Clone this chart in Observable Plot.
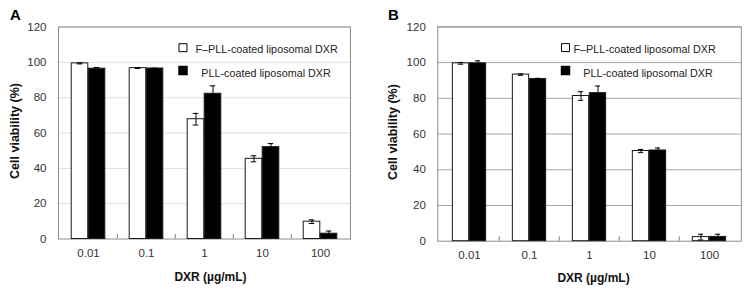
<!DOCTYPE html>
<html>
<head>
<meta charset="utf-8">
<script src="https://cdn.jsdelivr.net/npm/d3@7"></script>
<script src="https://cdn.jsdelivr.net/npm/@observablehq/plot@0.6"></script>
<style>
  html, body { margin: 0; padding: 0; background: #fff; }
  #wrap { position: relative; width: 744px; height: 292px; overflow: hidden; }
  .panel { position: absolute; top: 0; }
  svg { font-family: "Liberation Sans", Arial, sans-serif; }
</style>
</head>
<body>
<div id="wrap"></div>
<script>
// ---- data ----
const concentrations = ["0.01", "0.1", "1", "10", "100"];
const seriesNames = ["F\u2013PLL-coated liposomal DXR", "PLL-coated liposomal DXR"];
const yTicks = [0, 20, 40, 60, 80, 100, 120];

// Panel A
const aF = [99.4, 96.7, 67.8, 45.4, 9.8];
const aFerr = [0.3, 0.2, 3.3, 1.7, 1.0];
const aP = [96.4, 96.5, 82.2, 52.0, 3.0];
const aPerr = [0.7, 0.2, 4.5, 2.0, 1.5];

// Panel B
const bF = [99.6, 93.3, 81.3, 50.5, 2.3];
const bFerr = [0.5, 0.4, 2.4, 0.9, 1.6];
const bP = [99.6, 90.8, 82.9, 50.8, 2.4];
const bPerr = [1.4, 0.4, 4.0, 1.4, 1.5];

function makePanel({letter, F, Ferr, P, Perr, left, mL, mR, mT, mB, band, grid, lg, titleDy, ylabDx}) {
  const rows = [];
  concentrations.forEach((c, i) => {
    rows.push({c, s: 0, v: F[i], e: Ferr[i]});
    rows.push({c, s: 1, v: P[i], e: Perr[i]});
  });
  const bw = 17, half = band / 2, cap = 3;
  const white = rows.filter(d => d.s === 0), black = rows.filter(d => d.s === 1);
  const ink = "#1a1a1a";
  const plot = Plot.plot({
    width: 372, height: 292,
    marginLeft: mL, marginRight: mR, marginTop: mT, marginBottom: mB,
    style: {fontFamily: "Liberation Sans, Arial, sans-serif", fontSize: "11.5px", color: "#333", background: "transparent", overflow: "visible"},
    x: {domain: concentrations, padding: 0, label: null},
    y: {domain: [0, 120], label: null},
    marks: [
      Plot.gridY(yTicks.slice(1), {stroke: grid, strokeOpacity: 1, strokeWidth: 1}),
      Plot.frame({stroke: "#8c8c8c", strokeWidth: 1}),
      Plot.axisY(yTicks, {tickSize: 0, tickPadding: 12, fontSize: 11.5, label: null, fill: "#333"}),
      Plot.axisX({tickSize: 0, tickPadding: 10, fontSize: 11.5, label: null, fill: "#333"}),
      // inside tick marks at category boundaries
      Plot.ruleX(concentrations.slice(1), {x: d => d, y1: 0, y2: 2.4, dx: -half, stroke: "#777"}),
      // bars
      Plot.barY(white, {x: "c", y: "v", fill: "#fff", stroke: ink, strokeWidth: 1,
        insetLeft: half - bw, insetRight: half}),
      Plot.barY(black, {x: "c", y: "v", fill: "#000", stroke: ink, strokeWidth: 1,
        insetLeft: half, insetRight: half - bw}),
      // error bars
      Plot.ruleX(white, {x: "c", y1: d => d.v - d.e, y2: d => d.v + d.e, dx: -bw / 2, stroke: "#000", strokeWidth: 1}),
      Plot.ruleX(black, {x: "c", y1: d => d.v, y2: d => d.v + d.e, dx: bw / 2, stroke: "#000", strokeWidth: 1}),
      Plot.tickY(white, {x: "c", y: d => d.v + d.e, insetLeft: half - bw / 2 - cap, insetRight: half + bw / 2 - cap, stroke: "#000"}),
      Plot.tickY(white, {x: "c", y: d => d.v - d.e, insetLeft: half - bw / 2 - cap, insetRight: half + bw / 2 - cap, stroke: "#000"}),
      Plot.tickY(black, {x: "c", y: d => d.v + d.e, insetLeft: half + bw / 2 - cap, insetRight: half - bw / 2 - cap, stroke: "#000"}),
      // legend
      Plot.dot([seriesNames[0]], {frameAnchor: "top-left", dx: lg[0], dy: 20.7, symbol: "square", r: 4.5, fill: "#fff", stroke: "#000", strokeWidth: 1}),
      Plot.dot([seriesNames[1]], {frameAnchor: "top-left", dx: lg[0], dy: 43.5, symbol: "square", r: 4.5, fill: "#000", stroke: "#000"}),
      Plot.text([seriesNames[0]], {frameAnchor: "top-left", text: d => d, dx: lg[1], dy: 22.3, textAnchor: "start", lineAnchor: "middle", fontSize: 10.8, fill: "#222"}),
      Plot.text([seriesNames[1]], {frameAnchor: "top-left", text: d => d, dx: lg[2], dy: 46.3, textAnchor: "start", lineAnchor: "middle", fontSize: 10.8, fill: "#222"}),
      // axis titles
      Plot.text(["DXR (\u00b5g/mL)"], {frameAnchor: "bottom", text: d => d, dy: titleDy, dx: letter === "A" ? 6 : 4, textAnchor: "middle", lineAnchor: "middle", fontWeight: "bold", fontSize: 12, fill: "#111"}),
      Plot.text(["Cell viability (%)"], {frameAnchor: "left", text: d => d, rotate: -90, dx: ylabDx, dy: -2, textAnchor: "middle", lineAnchor: "middle", fontWeight: "bold", fontSize: 12.5, fill: "#111"}),
      // panel letter
      Plot.text([letter], {frameAnchor: "top-left", text: d => d, dx: ylabDx + 1, dy: -12, textAnchor: "middle", lineAnchor: "middle", fontWeight: "bold", fontSize: 15, fill: "#000"})
    ]
  });
  const div = document.createElement("div");
  div.className = "panel";
  div.style.left = left + "px";
  div.appendChild(plot);
  document.getElementById("wrap").appendChild(div);
}

makePanel({letter: "A", F: aF, Ferr: aFerr, P: aP, Perr: aPerr,
  left: 0, mL: 58, mR: 22, mT: 26.5, mB: 53.5, band: 58.4, grid: "#d3e2e6",
  lg: [124.5, 137, 142.7], titleDy: 38.2, ylabDx: -44});
makePanel({letter: "B", F: bF, Ferr: bFerr, P: bP, Perr: bPerr,
  left: 372, mL: 65.3, mR: 3.2, mT: 26.4, mB: 51.3, band: 60.7, grid: "#a8a8a8",
  lg: [127.7, 135.7, 145.4], titleDy: 36.8, ylabDx: -45.3});
</script>
</body>
</html>
